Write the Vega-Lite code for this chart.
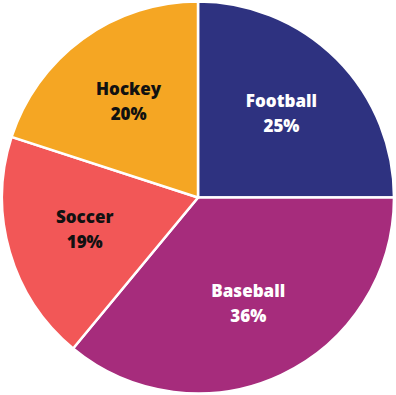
{
  "$schema": "https://vega.github.io/schema/vega-lite/v6.json",
  "width": 396,
  "height": 395,
  "autosize": {"type": "fit", "contains": "padding"},
  "padding": 0,
  "background": "white",
  "config": {"view": {"stroke": null}},
  "data": {"values": [
    {"sport": "Football", "pct": 25, "label": "25%", "ord": 1},
    {"sport": "Baseball", "pct": 36, "label": "36%", "ord": 2},
    {"sport": "Soccer", "pct": 19, "label": "19%", "ord": 3},
    {"sport": "Hockey", "pct": 20, "label": "20%", "ord": 4}
  ]},
  "encoding": {
    "theta": {"field": "pct", "type": "quantitative", "stack": true},
    "order": {"field": "ord", "type": "quantitative"}
  },
  "layer": [
    {
      "mark": {"type": "arc", "outerRadius": 196, "stroke": "white", "strokeWidth": 2.5},
      "encoding": {
        "color": {
          "field": "sport", "type": "nominal", "legend": null,
          "scale": {"domain": ["Football", "Baseball", "Soccer", "Hockey"], "range": ["#2E3280", "#A62C7C", "#F25757", "#F5A623"]}
        }
      }
    },
    {
      "mark": {"type": "text", "radius": 118, "dy": -12, "font": "Open Sans", "fontWeight": 800, "fontSize": 17},
      "encoding": {
        "text": {"field": "sport"},
        "color": {"field": "sport", "type": "nominal", "legend": null,
          "scale": {"domain": ["Football", "Baseball", "Soccer", "Hockey"], "range": ["#ffffff", "#ffffff", "#111111", "#111111"]}}
      }
    },
    {
      "mark": {"type": "text", "radius": 118, "dy": 13, "font": "Open Sans", "fontWeight": 800, "fontSize": 17},
      "encoding": {
        "text": {"field": "label"},
        "color": {"field": "sport", "type": "nominal", "legend": null,
          "scale": {"domain": ["Football", "Baseball", "Soccer", "Hockey"], "range": ["#ffffff", "#ffffff", "#111111", "#111111"]}}
      }
    }
  ],
  "resolve": {"scale": {"color": "independent"}}
}
